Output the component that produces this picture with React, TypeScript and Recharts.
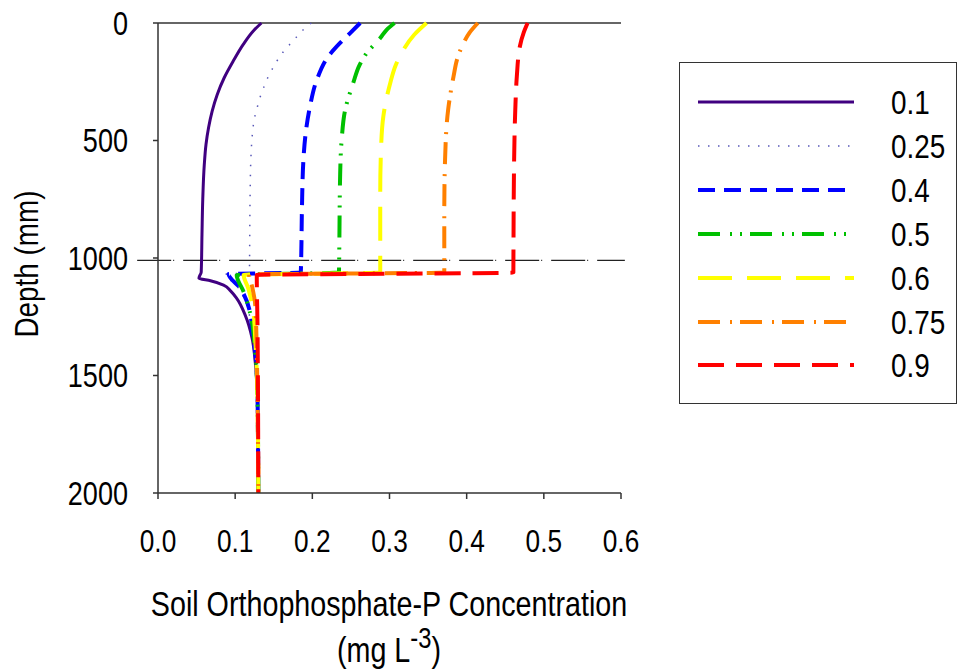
import { LineChart, Line, XAxis, YAxis, ReferenceLine } from 'recharts'

const FONT = "'Liberation Sans', Arial, sans-serif"
const SQUEEZE = 0.82

const seriesNames = ['0.1', '0.25', '0.4', '0.5', '0.6', '0.75', '0.9']

const depth01 = [0, 34, 91, 162, 233, 304, 375, 446, 517, 602, 750, 900, 1060, 1086, 1097, 1115, 1140, 1172, 1243, 1342, 1442, 1600, 2000]
const conc01 = [0.134, 0.1235, 0.1105, 0.0975, 0.0858, 0.0768, 0.0702, 0.0655, 0.0622, 0.06, 0.058, 0.057, 0.056, 0.053, 0.068, 0.085, 0.094, 0.102, 0.113, 0.122, 0.126, 0.129, 0.13]

const depth025 = [0, 34, 74, 112, 155, 198, 240, 283, 323, 364, 403, 450, 492, 574, 724, 994, 1062, 1070, 1110, 1160, 1250, 1400, 1600, 2000]
const conc025 = [0.1987, 0.1865, 0.1757, 0.165, 0.1554, 0.1477, 0.1412, 0.136, 0.1316, 0.1282, 0.1251, 0.123, 0.1218, 0.1204, 0.1194, 0.1187, 0.1185, 0.087, 0.1, 0.11, 0.119, 0.126, 0.129, 0.13]

const depth04 = [0, 43, 85, 141, 240, 354, 460, 574, 795, 994, 1062, 1068, 1129, 1243, 1314, 1400, 1600, 2000]
const conc04 = [0.262, 0.249, 0.236, 0.221, 0.206, 0.197, 0.1917, 0.1886, 0.1865, 0.1856, 0.185, 0.0915, 0.1066, 0.12, 0.122, 0.126, 0.129, 0.13]

const depth05 = [0, 30, 64, 130, 180, 255, 369, 497, 653, 937, 1062, 1072, 1144, 1243, 1400, 1600, 2000]
const conc05 = [0.3065, 0.296, 0.288, 0.27, 0.261, 0.253, 0.2426, 0.238, 0.236, 0.235, 0.2345, 0.102, 0.111, 0.12, 0.126, 0.129, 0.13]

const depth06 = [0, 50, 114, 180, 255, 398, 540, 724, 1062, 1072, 1129, 1243, 1342, 1600, 2000]
const conc06 = [0.348, 0.332, 0.318, 0.308, 0.301, 0.292, 0.289, 0.288, 0.288, 0.111, 0.117, 0.124, 0.126, 0.129, 0.13]

const depth075 = [0, 40, 85, 150, 227, 369, 582, 795, 1062, 1070, 1122, 1200, 1400, 2000]
const conc075 = [0.4145, 0.404, 0.396, 0.388, 0.383, 0.376, 0.372, 0.371, 0.371, 0.118, 0.122, 0.126, 0.128, 0.13]

const depth09 = [0, 40, 99, 227, 369, 582, 994, 1062, 1072, 1300, 2000]
const conc09 = [0.479, 0.474, 0.469, 0.465, 0.463, 0.4615, 0.4606, 0.4605, 0.128, 0.129, 0.13]

const xTicks = [0, 0.1, 0.2, 0.3, 0.4, 0.5, 0.6]
const yTicks = [0, 500, 1000, 1500, 2000]
const layerDepth = 1010

const depths = [depth01, depth025, depth04, depth05, depth06, depth075, depth09]
const concs = [conc01, conc025, conc04, conc05, conc06, conc075, conc09]

const styles = [
  { color: '#400080', dash: undefined, width: 3 },
  { color: '#5858b8', dash: '1.5 8.5', width: 1.5 },
  { color: '#0000ff', dash: '17 9', width: 4 },
  { color: '#00c000', dash: '22 10 2 8 2 8', width: 4 },
  { color: '#ffff00', dash: '34 15', width: 4 },
  { color: '#ff8000', dash: '22 10 2 8', width: 4 },
  { color: '#ff0000', dash: '26 12', width: 4 },
]

const series = seriesNames.map((name, i) => ({
  name,
  rows: depths[i].map((d, j) => ({ d, c: concs[i][j] })),
}))

// narrow text: the original uses an Arial Narrow-like face
const renderXTick = ({ x, y, payload }: any) => (
  <text
    key={`x-${payload.value}`}
    transform={`translate(${x},${y}) scale(${SQUEEZE},1)`}
    dy="0.71em"
    textAnchor="middle"
    fontFamily={FONT}
    fontSize={32}
    fill="#000"
    stroke="none"
  >
    {Number(payload.value).toFixed(1)}
  </text>
)

const renderYTick = ({ x, y, payload }: any) => (
  <text
    key={`y-${payload.value}`}
    transform={`translate(${x},${y}) scale(${SQUEEZE},1)`}
    dy="0.36em"
    textAnchor="end"
    fontFamily={FONT}
    fontSize={33}
    fill="#000"
    stroke="none"
  >
    {payload.value}
  </text>
)

function LegendBox() {
  return (
    <div
      style={{
        position: 'absolute',
        left: 679,
        top: 62,
        width: 278,
        height: 342,
        boxSizing: 'border-box',
        border: '1.5px solid #333',
        background: '#fff',
      }}
    >
      {series.map((s, i) => (
        <div key={s.name} style={{ position: 'absolute', left: 0, top: 39 + i * 43.9 - 20, height: 40, width: 276 }}>
          <svg width={160} height={40} style={{ position: 'absolute', left: 17, top: 0 }}>
            <line
              x1={1}
              x2={157}
              y1={20}
              y2={20}
              stroke={styles[i].color}
              strokeWidth={styles[i].width}
              strokeDasharray={styles[i].dash}
            />
          </svg>
          <span
            style={{
              position: 'absolute',
              left: 211,
              top: 0,
              lineHeight: '40px',
              fontFamily: FONT,
              fontSize: 34,
              color: '#000',
              transform: `scaleX(${SQUEEZE})`,
              transformOrigin: 'left center',
              whiteSpace: 'nowrap',
            }}
          >
            {s.name}
          </span>
        </div>
      ))}
    </div>
  )
}

export default function App() {
  return (
    <div style={{ position: 'absolute', left: 0, top: 0, width: 957, height: 672, background: '#fff' }}>
      <LineChart
        width={957}
        height={672}
        layout="vertical"
        margin={{ top: 23, right: 336, bottom: 0, left: 0 }}
      >
        <XAxis
          type="number"
          domain={[0, 0.6]}
          ticks={xTicks}
          height={179}
          tickSize={6}
          tickMargin={30}
          axisLine={{ stroke: '#333', strokeWidth: 1.5 }}
          tickLine={{ stroke: '#333', strokeWidth: 1.5 }}
          tick={renderXTick}
          label={() => (
            <g>
              <text transform={`translate(389,616) scale(${SQUEEZE},1)`} textAnchor="middle" fontFamily={FONT} fontSize={35} fill="#000" stroke="none">
                Soil Orthophosphate-P Concentration
              </text>
              <text transform={`translate(389,662) scale(${SQUEEZE},1)`} textAnchor="middle" fontFamily={FONT} fontSize={35} fill="#000" stroke="none">
                (mg L
                <tspan dy={-14} fontSize={29}>-3</tspan>
                <tspan dy={14}>)</tspan>
              </text>
            </g>
          )}
        />
        <YAxis
          type="number"
          dataKey="d"
          domain={[0, 2000]}
          ticks={yTicks}
          width={158}
          tickSize={5}
          tickMargin={25}
          axisLine={{ stroke: '#333', strokeWidth: 1.5 }}
          tickLine={{ stroke: '#333', strokeWidth: 1.5 }}
          tick={renderYTick}
          label={() => (
            <text
              transform={`translate(38,264) rotate(-90) scale(${SQUEEZE},1)`}
              textAnchor="middle"
              fontFamily={FONT}
              fontSize={34}
              fill="#000"
              stroke="none"
            >
              Depth (mm)
            </text>
          )}
        />
        <ReferenceLine y={0} stroke="#333" strokeWidth={1.5} />
        <ReferenceLine
          segment={[
            { x: -0.027, y: layerDepth },
            { x: 0.605, y: layerDepth },
          ]}
          ifOverflow="visible"
          stroke="#222"
          strokeWidth={1.3}
          strokeDasharray="34 2 1 9"
        />
        {series.map((s, i) => (
          <Line
            key={s.name}
            data={s.rows}
            dataKey="c"
            name={s.name}
            type="monotone"
            stroke={styles[i].color}
            strokeWidth={styles[i].width}
            strokeDasharray={styles[i].dash}
            dot={false}
            activeDot={false}
            isAnimationActive={false}
          />
        ))}
      </LineChart>
      <LegendBox />
    </div>
  )
}
